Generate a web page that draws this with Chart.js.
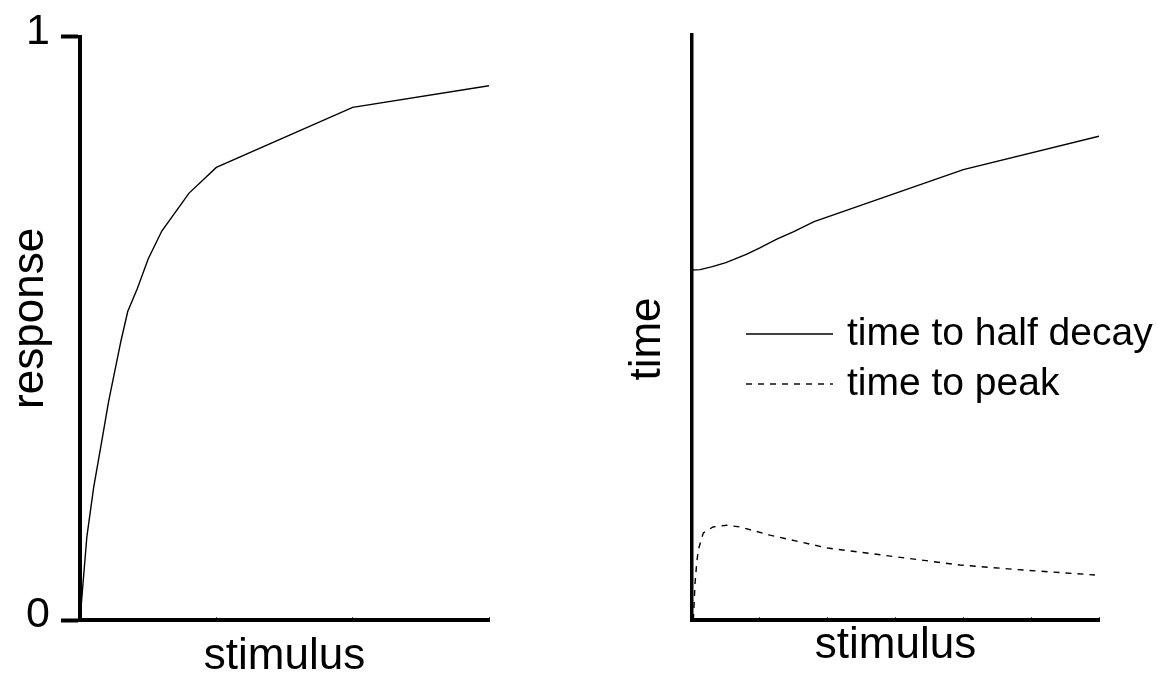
<!DOCTYPE html>
<html><head><meta charset="utf-8">
<script src="https://cdn.jsdelivr.net/npm/chart.js@4/dist/chart.umd.min.js"></script>
<style>
html,body{margin:0;padding:0;background:#fff;overflow:hidden;}
.wrap{position:absolute;left:0;top:0;width:1157px;height:677px;}
canvas{position:absolute;left:0;top:0;}
</style></head><body>
<div class="wrap"><canvas id="left" width="1157" height="677"></canvas><canvas id="right" width="1157" height="677"></canvas></div>
<script>
// ---- data ----
const responseStimulus = [0, 0.05, 0.1, 0.16, 0.21, 0.3, 0.35, 0.42, 0.5, 0.6, 0.8, 1, 2, 3];
const responseValues   = [0, 0.142, 0.227, 0.307, 0.375, 0.478, 0.529, 0.568, 0.619, 0.667, 0.732, 0.776, 0.879, 0.916];
const responseTickLabels = ['0', '1'];

const halfDecayStimulus = [0, 0.12, 0.3, 0.5, 0.8, 1.0, 1.25, 1.5, 1.8, 4, 6];
const halfDecayValues   = [0.598, 0.599, 0.604, 0.611, 0.625, 0.636, 0.651, 0.664, 0.681, 0.770, 0.827];

const peakStimulus = [0.02, 0.045, 0.07, 0.093, 0.167, 0.31, 0.51, 0.71, 1.15, 2.0, 3.95, 4.93, 5.94];
const peakValues   = [0.0, 0.063, 0.098, 0.120, 0.149, 0.159, 0.162, 0.159, 0.145, 0.123, 0.094, 0.085, 0.077];

const stimulusTitle = 'stimulus';
const responseTitle = 'response';
const timeTitle = 'time';
const halfDecayLabel = 'time to half decay';
const peakLabel = 'time to peak';

const FONT = "'Liberation Sans', Arial, sans-serif";

const pts = (xs, ys) => xs.map((x, i) => ({x, y: ys[i]}));

const sideTitlePlugin = {
  id: 'sideTitle',
  afterDraw(chart, args, opts) {
    const {ctx, chartArea} = chart;
    ctx.save();
    ctx.font = opts.size + 'px ' + FONT;
    ctx.fillStyle = '#000';
    ctx.textAlign = 'center';
    ctx.textBaseline = 'alphabetic';
    ctx.translate(chartArea.left + opts.dx, (chartArea.top + chartArea.bottom) / 2 + opts.dy);
    ctx.rotate(-Math.PI / 2);
    ctx.fillText(opts.text, 0, 0);
    ctx.restore();
  }
};

const lineLegendPlugin = {
  id: 'lineLegend',
  afterDraw(chart, args, opts) {
    if (!opts || !opts.display) return;
    const {ctx} = chart;
    chart.data.datasets.forEach((ds, i) => {
      const y = opts.y + i * opts.rowGap;
      ctx.save();
      ctx.strokeStyle = ds.borderColor;
      ctx.lineWidth = ds.borderWidth;
      ctx.setLineDash(ds.borderDash || []);
      ctx.beginPath();
      ctx.moveTo(opts.x, y);
      ctx.lineTo(opts.x + opts.lineLen, y);
      ctx.stroke();
      ctx.setLineDash([]);
      ctx.font = opts.size + 'px ' + FONT;
      ctx.fillStyle = '#000';
      ctx.textAlign = 'left';
      ctx.textBaseline = 'middle';
      ctx.fillText(ds.label, opts.x + opts.lineLen + opts.gap, y);
      ctx.restore();
    });
  }
};

new Chart(document.getElementById('left'), {
  type: 'line',
  data: { datasets: [{
    label: responseTitle,
    data: pts(responseStimulus, responseValues),
    borderColor: '#000', borderWidth: 1.4, pointRadius: 0, tension: 0, fill: false
  }]},
  options: {
    responsive: false, animation: false, events: [],
    layout: { padding: { left: 0, top: 34, right: 668, bottom: 0 } },
    plugins: {
      legend: { display: false }, tooltip: { enabled: false },
      sideTitle: { text: responseTitle, size: 44, dx: -37, dy: -10 }
    },
    scales: {
      x: {
        type: 'linear', min: 0, max: 3,
        ticks: { stepSize: 1, display: false },
        grid: { drawOnChartArea: false, drawTicks: true, tickLength: -3, tickWidth: 1, tickColor: '#444' },
        border: { display: true, width: 4, color: '#000' },
        title: { display: true, text: stimulusTitle, color: '#000', font: { family: FONT, size: 44, lineHeight: 0.5 }, padding: { top: 0, bottom: 9 } },
        afterFit: s => { s.height = 57; }
      },
      y: {
        type: 'linear', min: 0, max: 1,
        ticks: { stepSize: 1, color: '#000', font: { family: FONT, size: 43 }, padding: 11, labelOffset: -5,
                 callback: (v, i) => responseTickLabels[i] },
        grid: { drawOnChartArea: false, drawTicks: true, tickLength: 19, tickWidth: 4, tickColor: '#000' },
        border: { display: true, width: 4, color: '#000' },
        afterFit: s => { s.width = 80; }
      }
    }
  },
  plugins: [sideTitlePlugin]
});

new Chart(document.getElementById('right'), {
  type: 'line',
  data: { datasets: [
    { label: halfDecayLabel, data: pts(halfDecayStimulus, halfDecayValues),
      borderColor: '#000', borderWidth: 1.4, pointRadius: 0, tension: 0, fill: false },
    { label: peakLabel, data: pts(peakStimulus, peakValues),
      borderColor: '#000', borderWidth: 1.4, borderDash: [6, 6], pointRadius: 0, tension: 0, fill: false }
  ]},
  options: {
    responsive: false, animation: false, events: [],
    layout: { padding: { left: 0, top: 35, right: 58, bottom: 0 } },
    plugins: {
      legend: { display: false }, tooltip: { enabled: false },
      sideTitle: { text: timeTitle, size: 44, dx: -32, dy: 11.5 },
      lineLegend: { display: true, x: 746, y: 334, rowGap: 50, lineLen: 87, gap: 14, size: 39 }
    },
    scales: {
      x: {
        type: 'linear', min: 0, max: 6,
        ticks: { stepSize: 1, display: false },
        grid: { drawOnChartArea: false, drawTicks: true, tickLength: -3, tickWidth: 1, tickColor: '#444' },
        border: { display: true, width: 4, color: '#000' },
        title: { display: true, text: stimulusTitle, color: '#000', font: { family: FONT, size: 44, lineHeight: 0.5 }, padding: { top: 0, bottom: 20 } },
        afterFit: s => { s.height = 57; }
      },
      y: {
        type: 'linear', min: 0, max: 1,
        ticks: { display: false },
        grid: { display: false },
        border: { display: true, width: 3.5, color: '#000' },
        afterFit: s => { s.width = 692; }
      }
    }
  },
  plugins: [sideTitlePlugin, lineLegendPlugin]
});
</script>
</body></html>
